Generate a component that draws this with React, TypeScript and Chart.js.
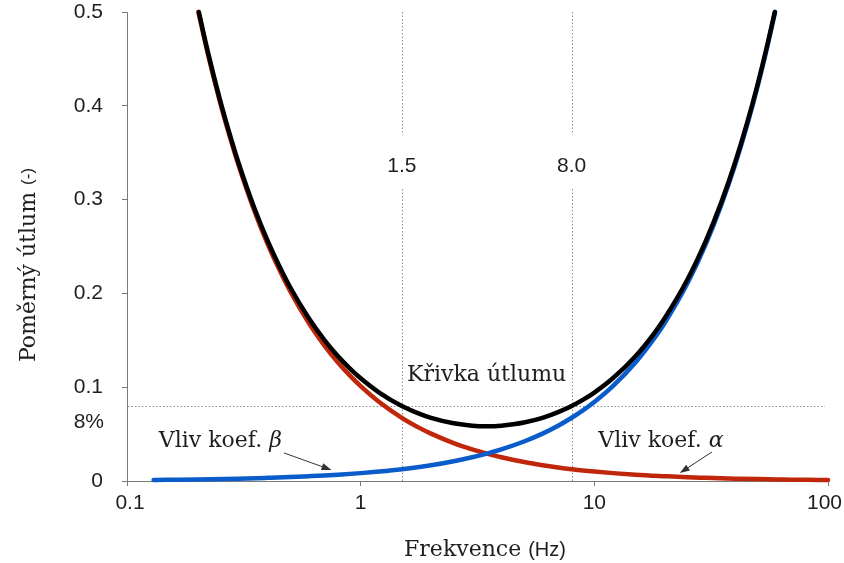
import React, { useEffect, useRef } from "react";
import { Chart, registerables } from "chart.js";

Chart.register(...registerables);

// Total damping curve (Křivka útlumu)
const freqTotal = [0.203, 0.22, 0.25, 0.28, 0.3, 0.35, 0.4, 0.45, 0.5, 0.6, 0.7, 0.8, 0.9, 1, 1.2, 1.5, 1.8, 2, 2.5, 3, 3.5, 4, 4.5, 5, 6, 7, 8, 9, 10, 12, 15, 18, 20, 25, 30, 35, 40, 45, 50, 55, 59.2];
const dampTotal = [0.5, 0.4612, 0.4063, 0.3633, 0.3393, 0.2916, 0.2560, 0.2284, 0.2063, 0.1735, 0.1503, 0.1330, 0.1199, 0.1095, 0.0943, 0.0800, 0.0713, 0.0673, 0.0615, 0.0590, 0.0584, 0.0590, 0.0604, 0.0623, 0.0673, 0.0734, 0.0800, 0.0870, 0.0943, 0.1095, 0.1330, 0.1572, 0.1735, 0.2145, 0.2560, 0.2976, 0.3393, 0.3812, 0.4230, 0.4650, 0.5];

// Mass-proportional part (Vliv koef. alpha)
const freqAlpha = [0.202, 0.22, 0.25, 0.28, 0.3, 0.35, 0.4, 0.45, 0.5, 0.6, 0.7, 0.8, 0.9, 1, 1.2, 1.5, 1.8, 2, 2.5, 3, 3.5, 4, 5, 6, 7, 8, 10, 12, 15, 20, 25, 30, 40, 50, 60, 70, 80, 100];
const dampAlpha = [0.5, 0.4593, 0.4042, 0.3609, 0.3368, 0.2887, 0.2526, 0.2246, 0.2021, 0.1684, 0.1444, 0.1263, 0.1123, 0.1011, 0.0842, 0.0674, 0.0561, 0.0505, 0.0404, 0.0337, 0.0289, 0.0253, 0.0202, 0.0168, 0.0144, 0.0126, 0.0101, 0.0084, 0.0067, 0.0051, 0.0040, 0.0034, 0.0025, 0.0020, 0.0017, 0.0014, 0.0013, 0.0010];

// Stiffness-proportional part (Vliv koef. beta)
const freqBeta = [0.13, 0.15, 0.2, 0.3, 0.4, 0.5, 0.6, 0.7, 0.8, 1, 1.2, 1.5, 2, 2.5, 3, 3.5, 4, 5, 6, 7, 8, 9, 10, 12, 15, 18, 20, 25, 30, 35, 40, 45, 50, 55, 59.4];
const dampBeta = [0.0011, 0.0013, 0.0017, 0.0025, 0.0034, 0.0042, 0.0051, 0.0059, 0.0067, 0.0084, 0.0101, 0.0126, 0.0168, 0.0211, 0.0253, 0.0295, 0.0337, 0.0421, 0.0505, 0.0589, 0.0674, 0.0758, 0.0842, 0.1011, 0.1263, 0.1516, 0.1684, 0.2105, 0.2526, 0.2947, 0.3368, 0.3789, 0.421, 0.4632, 0.5];

const xTicks = [0.1, 1, 10, 100];
const xTickLabels = ["0.1", "1", "10", "100"];
const yTickLabels = ["0", "0.1", "0.2", "0.3", "0.4", "0.5"];

const markFreqs = [1.5, 8.0];
const markLabels = ["1.5", "8.0"];
const targetDamping = 0.08;
const targetLabel = "8%";

const curveTitle = "Křivka útlumu";
const betaText = "Vliv koef. ";
const betaSym = "β";
const alphaText = "Vliv koef. ";
const alphaSym = "α";
const xTitleMain = "Frekvence";
const xTitleUnit = "(Hz)";
const yTitleMain = "Poměrný útlum";
const yTitleUnit = "(-)";

const SERIF = "'DejaVu Serif', serif";
const SANS = "'Liberation Sans', Arial, sans-serif";
const TICK_SIZE = 21;

const RED = "#c0260a";
const BLUE = "#0a5ccb";
const BLACK = "#000000";
const TEXT = "#1e1e1e";
const AXIS = "#7a7a7a";

function toPts(xs: number[], ys: number[]) {
  return xs.map((x, i) => ({ x, y: ys[i] }));
}

function arrow(ctx: CanvasRenderingContext2D, x1: number, y1: number, x2: number, y2: number) {
  const ang = Math.atan2(y2 - y1, x2 - x1);
  const L = 10, W = 3.5;
  const bx = x2 - L * Math.cos(ang), by = y2 - L * Math.sin(ang);
  ctx.beginPath();
  ctx.moveTo(x1, y1);
  ctx.lineTo(bx, by);
  ctx.stroke();
  ctx.beginPath();
  ctx.moveTo(x2, y2);
  ctx.lineTo(bx + W * Math.sin(ang), by - W * Math.cos(ang));
  ctx.lineTo(bx - W * Math.sin(ang), by + W * Math.cos(ang));
  ctx.closePath();
  ctx.fill();
}

const annotPlugin = {
  id: "annot",
  beforeDatasetsDraw(chart: any) {
    const { ctx, chartArea, scales } = chart;
    const x = scales.x, y = scales.y;
    ctx.save();
    ctx.strokeStyle = "#8c8c8c";
    ctx.lineWidth = 1;
    ctx.setLineDash([1.5, 2]);
    const yT = Math.round(y.getPixelForValue(targetDamping)) + 0.5;
    ctx.beginPath();
    ctx.moveTo(chartArea.left + 1, yT);
    ctx.lineTo(chartArea.right - 3, yT);
    ctx.stroke();
    const labelY = 166;
    markFreqs.forEach((f) => {
      const px = Math.round(x.getPixelForValue(f)) + 0.5;
      ctx.beginPath();
      ctx.moveTo(px, chartArea.top);
      ctx.lineTo(px, labelY - 31);
      ctx.moveTo(px, labelY + 23);
      ctx.lineTo(px, chartArea.bottom);
      ctx.stroke();
    });
    ctx.restore();
  },
  afterDraw(chart: any) {
    const { ctx, chartArea, scales } = chart;
    const x = scales.x, y = scales.y;
    ctx.save();
    ctx.fillStyle = TEXT;
    ctx.font = `${TICK_SIZE}px ${SANS}`;
    // x tick labels (drawn here so the last one stays inside the canvas)
    ctx.textBaseline = "middle";
    xTicks.forEach((v, i) => {
      const px = x.getPixelForValue(v);
      const isLast = i === xTicks.length - 1;
      ctx.textAlign = isLast ? "right" : "center";
      ctx.fillText(xTickLabels[i], isLast ? chart.width - 2 : px + (i === 0 ? 3 : 0), chartArea.bottom + 22);
    });
    // mark labels
    ctx.textAlign = "center";
    markFreqs.forEach((f, i) => {
      ctx.fillText(markLabels[i], x.getPixelForValue(f), 166);
    });
    // 8% label
    ctx.textAlign = "right";
    ctx.fillText(targetLabel, 104, y.getPixelForValue(targetDamping) + 16);

    // curve title
    ctx.textBaseline = "alphabetic";
    ctx.textAlign = "center";
    ctx.font = `22px ${SERIF}`;
    ctx.fillText(curveTitle, x.getPixelForValue(3.46), y.getPixelForValue(0.107));

    // beta label (right-aligned)
    ctx.textAlign = "left";
    const betaRight = x.getPixelForValue(0.46);
    const betaBase = y.getPixelForValue(0.036);
    ctx.font = `22px ${SERIF}`;
    const w1 = ctx.measureText(betaText).width;
    ctx.font = `italic 22px ${SERIF}`;
    const w2 = ctx.measureText(betaSym).width;
    ctx.font = `22px ${SERIF}`;
    ctx.fillText(betaText, betaRight - w1 - w2, betaBase);
    ctx.font = `italic 22px ${SERIF}`;
    ctx.fillText(betaSym, betaRight - w2, betaBase);

    // alpha label (left-aligned)
    const alphaLeft = x.getPixelForValue(10.4);
    ctx.font = `22px ${SERIF}`;
    const w3 = ctx.measureText(alphaText).width;
    ctx.fillText(alphaText, alphaLeft, betaBase);
    ctx.font = `italic 22px ${SERIF}`;
    ctx.fillText(alphaSym, alphaLeft + w3, betaBase);

    // arrows
    ctx.strokeStyle = "#333";
    ctx.fillStyle = "#333";
    ctx.lineWidth = 1;
    arrow(ctx, x.getPixelForValue(0.47), y.getPixelForValue(0.0299), x.getPixelForValue(0.75), y.getPixelForValue(0.0117));
    arrow(ctx, x.getPixelForValue(31.9), y.getPixelForValue(0.031), x.getPixelForValue(23.2), y.getPixelForValue(0.0085));

    // x title
    ctx.fillStyle = TEXT;
    ctx.font = `22px ${SERIF}`;
    const xm = ctx.measureText(xTitleMain + " ").width;
    ctx.font = `20px ${SANS}`;
    const xu = ctx.measureText(xTitleUnit).width;
    const xStart = 485 - (xm + xu) / 2;
    ctx.font = `22px ${SERIF}`;
    ctx.fillText(xTitleMain + " ", xStart, 556);
    ctx.font = `20px ${SANS}`;
    ctx.fillText(xTitleUnit, xStart + xm, 556);

    // y title (rotated)
    ctx.translate(35, 265);
    ctx.rotate(-Math.PI / 2);
    ctx.font = `22px ${SERIF}`;
    const ym = ctx.measureText(yTitleMain + " ").width;
    ctx.font = `17px ${SANS}`;
    const yu = ctx.measureText(yTitleUnit).width;
    const yStart = -(ym + yu) / 2;
    ctx.font = `22px ${SERIF}`;
    ctx.fillText(yTitleMain + " ", yStart, 0);
    ctx.font = `17px ${SANS}`;
    ctx.fillText(yTitleUnit, yStart + ym, -2);
    ctx.restore();
  },
};

export default function App() {
  const ref = useRef<HTMLCanvasElement | null>(null);
  useEffect(() => {
    document.body.style.margin = "0";
    const canvas = ref.current;
    if (!canvas) return;
    const lineDs = (label: string, pts: any[], color: string) => ({
      label,
      data: pts,
      showLine: true,
      borderColor: color,
      backgroundColor: color,
      borderWidth: 4.5,
      borderCapStyle: "round" as const,
      borderJoinStyle: "round" as const,
      pointRadius: 0,
      cubicInterpolationMode: "monotone" as const,
      fill: false,
      clip: 4,
    });
    const chart = new Chart(canvas, {
      type: "scatter",
      data: {
        datasets: [
          lineDs("Křivka útlumu", toPts(freqTotal, dampTotal), BLACK),
          lineDs("Vliv koef. β", toPts(freqBeta, dampBeta), BLUE),
          lineDs("Vliv koef. α", toPts(freqAlpha, dampAlpha), RED),
        ],
      },
      options: {
        responsive: false,
        animation: false,
        events: [],
        layout: { padding: { left: 0, right: 16, top: 12, bottom: 0 } },
        plugins: { legend: { display: false }, tooltip: { enabled: false }, title: { display: false } },
        scales: {
          x: {
            type: "logarithmic",
            min: 0.1,
            max: 100,
            afterBuildTicks: (axis: any) => {
              axis.ticks = xTicks.map((v) => ({ value: v }));
            },
            afterFit: (axis: any) => {
              axis.height = 82;
              axis.paddingLeft = 0;
              axis.paddingRight = 0;
            },
            ticks: {
              display: false,
              autoSkip: false,
              maxRotation: 0,
            },
            grid: { drawOnChartArea: false, drawTicks: true, tickLength: 5, color: AXIS, lineWidth: 1 },
            border: { display: true, color: AXIS, width: 1 },
          },
          y: {
            type: "linear",
            min: 0,
            max: 0.5,
            afterFit: (axis: any) => {
              axis.width = 127;
              axis.paddingTop = 0;
              axis.paddingBottom = 0;
            },
            ticks: {
              stepSize: 0.1,
              padding: 19,
              color: TEXT,
              font: { family: "'Liberation Sans', Arial, sans-serif", size: TICK_SIZE },
              callback: (_v: any, i: number) => yTickLabels[i],
            },
            grid: { drawOnChartArea: false, drawTicks: true, tickLength: 5, color: AXIS, lineWidth: 1 },
            border: { display: true, color: AXIS, width: 1 },
          },
        },
      },
      plugins: [annotPlugin],
    });
    return () => chart.destroy();
  }, []);
  return (
    <div style={{ position: "absolute", left: 0, top: 0, width: 844, height: 563, background: "#fff" }}>
      <canvas ref={ref} width={844} height={563} style={{ display: "block" }} />
    </div>
  );
}
